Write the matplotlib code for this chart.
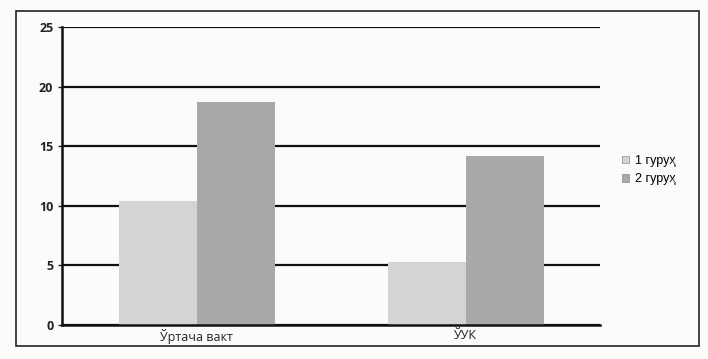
import numpy as np
import matplotlib.pyplot as plt
from matplotlib.patches import Rectangle

categories = ["Ўртача вакт", "ЎУК"]
group1 = [10.4, 5.3]
group2 = [18.7, 14.2]
series_names = ["1 гуруҳ", "2 гуруҳ"]
yticks = [0, 5, 10, 15, 20, 25]

plt.rcParams['font.family'] = ['Open Sans', 'DejaVu Sans']

fig = plt.figure(figsize=(7.08, 3.59), dpi=100)
fig.patch.set_facecolor('#fbfbfa')
ax = fig.add_axes([0.088, 0.095, 0.76, 0.83])
ax.set_facecolor('#fbfbfa')

x = np.arange(len(categories))
w = 0.29
ax.bar(x - w / 2, group1, w, color='#d4d4d2', label=series_names[0], zorder=2)
ax.bar(x + w / 2, group2, w, color='#a9a9a7', label=series_names[1], zorder=2)

ax.set_ylim(0, 25)
ax.set_xlim(-0.5, 1.5)
ax.set_yticks(yticks)
ax.set_xticks(x)
ax.set_xticklabels(categories, fontsize=9, color='#222222')
ax.tick_params(axis='y', labelsize=9, colors='#222222', length=3, width=1)
ax.tick_params(axis='x', length=0, pad=3)
for lab in ax.get_yticklabels():
    lab.set_fontweight('bold')

ax.grid(axis='y', color='#111111', linewidth=1.6, zorder=1)
ax.set_axisbelow(True)
for side in ['top', 'right']:
    ax.spines[side].set_visible(False)
for side in ['left', 'bottom']:
    ax.spines[side].set_linewidth(1.8)
    ax.spines[side].set_color('#111111')

leg = ax.legend(loc='center left', bbox_to_anchor=(1.02, 0.52), frameon=False,
                handlelength=0.5, handleheight=0.5, handletextpad=0.5,
                labelspacing=0.55, prop={'family': 'Liberation Sans', 'size': 9})
for h in leg.legend_handles:
    h.set_edgecolor('#8a8a88')
    h.set_linewidth(0.5)

# outer border of the chart
fig.add_artist(Rectangle((0.022, 0.035), 0.965, 0.935, transform=fig.transFigure,
                         fill=False, edgecolor='#222222', linewidth=1.2))

fig.savefig('out.png', dpi=100, facecolor=fig.get_facecolor())
